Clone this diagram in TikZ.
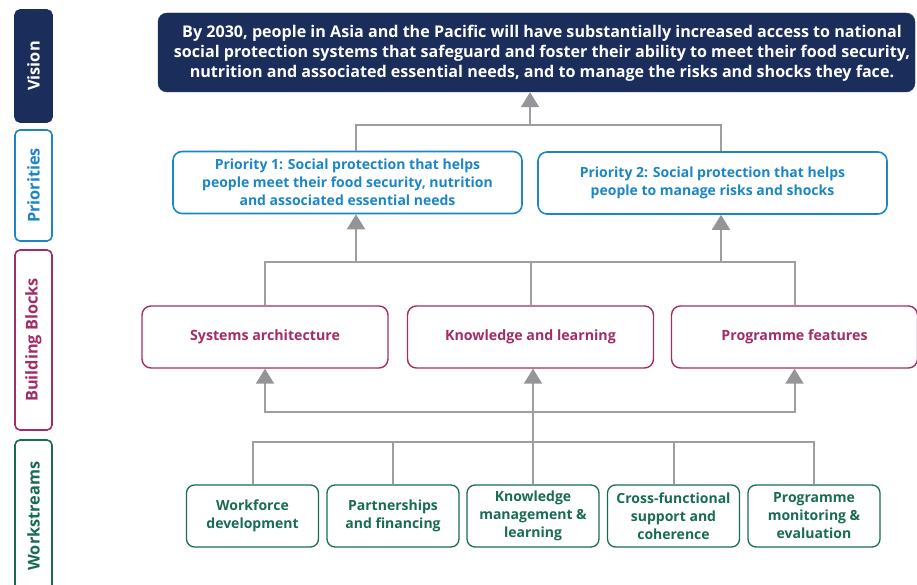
\documentclass[tikz,border=0pt]{standalone}
\usepackage{fontspec}
\setmainfont{Open Sans}
\usetikzlibrary{arrows.meta}
\definecolor{navy}{HTML}{1B2E5B}
\definecolor{prioblue}{HTML}{1A86C6}
\definecolor{blockred}{HTML}{A22C64}
\definecolor{wsgreen}{HTML}{186B54}
\definecolor{linkgray}{HTML}{9C9EA1}
\definecolor{tipgray}{HTML}{939598}
\begin{document}
\begin{tikzpicture}[x=1pt,y=-1pt,
  tab/.style={rounded corners=5pt, line width=1.6pt, rotate=90, minimum height=37pt,
    inner sep=0pt, font=\fontsize{16.3}{18}\selectfont\bfseries},
  vis/.style={draw=navy, fill=navy, rounded corners=9pt, inner sep=0pt,
    minimum width=757pt, minimum height=79pt},
  vistxt/.style={text=white, align=center, inner sep=0pt,
    font=\fontsize{16.1}{20}\selectfont\bfseries},
  prio/.style={draw=prioblue, line width=1.6pt, rounded corners=9pt, text=prioblue, align=center,
    inner sep=0pt, minimum width=349pt, minimum height=62pt,
    font=\fontsize{14}{18}\selectfont\bfseries},
  block/.style={draw=blockred, line width=1.4pt, rounded corners=9pt, text=blockred, align=center,
    inner sep=0pt, minimum width=246pt, minimum height=62pt,
    font=\fontsize{14.2}{18}\selectfont\bfseries},
  ws/.style={draw=wsgreen, line width=1.3pt, rounded corners=8pt, text=wsgreen, align=center,
    inner sep=0pt, minimum width=132pt, minimum height=62pt,
    font=\fontsize{14}{18}\selectfont\bfseries},
  link/.style={draw=linkgray, line width=2pt},
  arrowlink/.style={link, -{Triangle[width=18pt,length=15pt,fill=tipgray,color=tipgray]}},
]
\useasboundingbox (0,0) rectangle (917,585);

% level tabs on the left
\node[tab, draw=navy, fill=navy, text=white, minimum width=112pt] (tvision) at (33.5,66) {Vision};
\node[tab, draw=prioblue, fill=white, text=prioblue, minimum width=111pt] (tprio) at (33.5,185.5) {Priorities};
\node[tab, draw=blockred, fill=white, text=blockred, minimum width=180pt] (tblock) at (33.5,340) {Building Blocks};
\node[tab, draw=wsgreen, fill=white, text=wsgreen, minimum width=152pt] (tws) at (33.5,516) {Workstreams};

% vision
\node[vis] (vision) at (536.5,52.5) {};
\node[vistxt] (visiontext) at (542,53) {By 2030, people in Asia and the Pacific will have substantially increased access to national\\
social protection systems that safeguard and foster their ability to meet their food security,\\
nutrition and associated essential needs, and to manage the risks and shocks they face.};

% priorities
\node[prio] (p1) at (347.5,182.5) {Priority 1: Social protection that helps\\people meet their food security, nutrition\\and associated essential needs};
\node[prio] (p2) at (712.5,183) {Priority 2: Social protection that helps\\people to manage risks and shocks};

% building blocks
\node[block] (sa) at (265,337) {Systems architecture};
\node[block] (kl) at (530.5,337) {Knowledge and learning};
\node[block] (pf) at (794.5,337) {Programme features};

% workstreams
\node[ws] (ws1) at (252.5,516) {Workforce\\development};
\node[ws] (ws2) at (393,516) {Partnerships\\and financing};
\node[ws] (ws3) at (533,516) {Knowledge\\management \&\\learning};
\node[ws] (ws4) at (673.5,516) {Cross-functional\\support and\\coherence};
\node[ws] (ws5) at (814,516) {Programme\\monitoring \&\\evaluation};

% connection ports
\coordinate (p1top) at ([xshift=8.5pt]p1.north);
\coordinate (p1bot) at ([xshift=8.5pt]p1.south);
\coordinate (p2top) at ([xshift=8.5pt]p2.north);
\coordinate (p2bot) at ([xshift=8.5pt]p2.south);
\coordinate (jv) at (530,125);
\coordinate (jb) at (530,262);
\coordinate (jl) at (533,412);
\coordinate (jw) at (533,442);

% priorities -> vision
\draw[link] (p1top) |- (jv) -| (p2top);
\draw[arrowlink] (jv) -- (vision.south -| jv);

% building blocks -> priorities
\draw[link] (sa.north) |- (jb) -| (pf.north);
\draw[link] (kl.north) -- (kl.north |- jb);
\draw[arrowlink] (p1bot |- jb) -- (p1bot);
\draw[arrowlink] (p2bot |- jb) -- (p2bot);

% workstreams -> building blocks
\draw[link] (ws1.north) |- (jw) -| (ws5.north);
\draw[link] (ws2.north) -- (ws2.north |- jw);
\draw[link] (ws4.north) -- (ws4.north |- jw);
\draw[arrowlink] (ws3.north) -- (kl.south -| ws3.north);
\draw[arrowlink] (jl) -| (sa.south);
\draw[arrowlink] (jl) -| (pf.south);
\end{tikzpicture}
\end{document}
